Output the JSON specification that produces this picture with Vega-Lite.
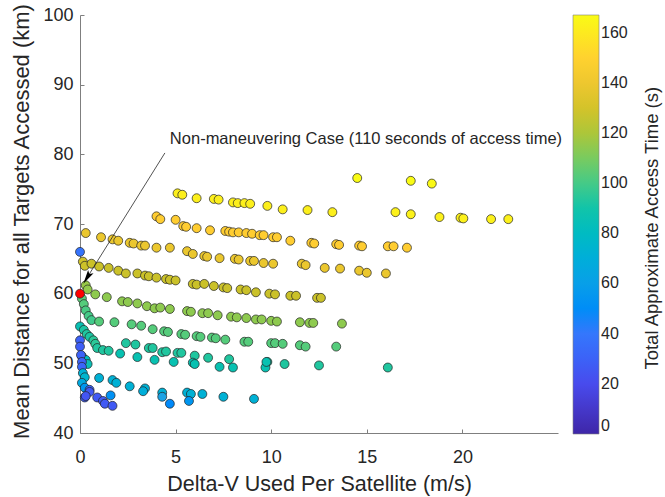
{
  "$schema": "https://vega.github.io/schema/vega-lite/v6.json",
  "width": 478,
  "height": 418,
  "autosize": {"type": "none"},
  "padding": {"left": 80, "top": 15, "right": 107, "bottom": 64},
  "background": "white",
  "config": {
    "font": "Liberation Sans",
    "view": {"stroke": null},
    "axis": {
      "grid": false,
      "labelFlush": false,
      "domainColor": "#7f7f7f",
      "domainWidth": 1,
      "tickColor": "#7f7f7f",
      "tickSize": -4,
      "labelFontSize": 18,
      "labelColor": "#262626",
      "titleFontSize": 21.5,
      "titleFontWeight": "normal",
      "titleColor": "#262626"
    },
    "legend": {
      "padding": 0,
      "offset": 15,
      "gradientLength": 419,
      "gradientThickness": 26,
      "gradientStrokeColor": "#7f7f7f",
      "gradientStrokeWidth": 0.6,
      "labelFontSize": 16,
      "labelColor": "#262626",
      "labelOffset": 14
    }
  },
  "layer": [
    {
      "data": {"values": [
        {"x":14.5,"y":76.6,"t":167},{"x":17.3,"y":76.2,"t":167},{"x":18.4,"y":75.8,"t":166},
        {"x":5.1,"y":74.4,"t":162},{"x":5.35,"y":74.2,"t":162},{"x":6.1,"y":73.7,"t":162},{"x":7.0,"y":73.6,"t":162},{"x":7.25,"y":73.5,"t":162},{"x":8.0,"y":73.1,"t":162},{"x":8.25,"y":73.0,"t":162},{"x":8.6,"y":73.0,"t":162},{"x":8.9,"y":72.9,"t":162},{"x":9.8,"y":72.6,"t":162},{"x":10.6,"y":72.1,"t":162},{"x":11.9,"y":72.0,"t":162},{"x":13.2,"y":71.7,"t":162},{"x":16.5,"y":71.7,"t":163},{"x":17.3,"y":71.4,"t":163},{"x":18.8,"y":71.0,"t":163},{"x":19.9,"y":70.9,"t":163},{"x":20.05,"y":70.8,"t":163},{"x":21.5,"y":70.7,"t":163},{"x":22.4,"y":70.7,"t":163},
        {"x":4.0,"y":71.1,"t":148},{"x":4.2,"y":70.7,"t":148},{"x":5.0,"y":70.6,"t":148},{"x":5.4,"y":69.7,"t":148},{"x":5.55,"y":69.6,"t":148},{"x":6.1,"y":69.4,"t":148},{"x":6.8,"y":69.1,"t":148},{"x":7.6,"y":69.0,"t":148},{"x":7.8,"y":68.9,"t":148},{"x":8.0,"y":68.8,"t":148},{"x":8.3,"y":68.8,"t":148},{"x":8.7,"y":68.7,"t":148},{"x":9.0,"y":68.6,"t":148},{"x":9.4,"y":68.4,"t":148},{"x":9.6,"y":68.4,"t":148},{"x":10.1,"y":68.1,"t":148},{"x":10.3,"y":68.1,"t":148},{"x":11.0,"y":67.6,"t":148},{"x":12.1,"y":67.3,"t":148},{"x":12.25,"y":67.2,"t":148},{"x":13.4,"y":67.1,"t":148},{"x":13.55,"y":67.0,"t":148},{"x":14.6,"y":66.9,"t":148},{"x":14.75,"y":66.8,"t":148},{"x":16.1,"y":66.8,"t":148},{"x":16.4,"y":66.8,"t":148},{"x":17.1,"y":66.6,"t":148},
        {"x":0.3,"y":68.7,"t":139},{"x":1.1,"y":68.1,"t":139},{"x":1.7,"y":67.8,"t":139},{"x":2.0,"y":67.6,"t":139},{"x":2.6,"y":67.3,"t":139},{"x":2.8,"y":67.2,"t":139},{"x":3.2,"y":66.9,"t":139},{"x":3.4,"y":66.9,"t":139},{"x":4.0,"y":66.6,"t":139},{"x":4.7,"y":66.6,"t":139},{"x":5.6,"y":66.1,"t":139},{"x":5.9,"y":65.7,"t":139},{"x":6.5,"y":65.4,"t":139},{"x":6.65,"y":65.3,"t":139},{"x":7.3,"y":65.1,"t":139},{"x":8.1,"y":65.0,"t":139},{"x":8.3,"y":64.9,"t":139},{"x":8.9,"y":64.7,"t":139},{"x":9.1,"y":64.7,"t":139},{"x":9.6,"y":64.4,"t":139},{"x":10.1,"y":64.3,"t":139},{"x":11.6,"y":64.3,"t":139},{"x":11.8,"y":64.1,"t":139},{"x":12.8,"y":63.7,"t":139},{"x":13.6,"y":63.6,"t":139},{"x":14.6,"y":63.3,"t":139},{"x":15.0,"y":63.0,"t":139},{"x":16.0,"y":62.9,"t":139},
        {"x":0.15,"y":64.6,"t":128},{"x":0.25,"y":64.0,"t":127},{"x":0.6,"y":64.3,"t":126},{"x":1.0,"y":63.9,"t":126},{"x":1.5,"y":63.7,"t":126},{"x":2.0,"y":63.3,"t":126},{"x":2.4,"y":62.9,"t":126},{"x":3.0,"y":62.9,"t":126},{"x":3.4,"y":62.6,"t":126},{"x":3.6,"y":62.5,"t":126},{"x":4.0,"y":62.3,"t":126},{"x":4.5,"y":62.1,"t":126},{"x":4.7,"y":62.0,"t":126},{"x":5.0,"y":61.9,"t":126},{"x":5.9,"y":61.4,"t":126},{"x":6.1,"y":61.3,"t":126},{"x":6.5,"y":61.4,"t":126},{"x":7.0,"y":61.1,"t":126},{"x":7.5,"y":60.9,"t":126},{"x":7.7,"y":60.8,"t":126},{"x":8.4,"y":60.6,"t":126},{"x":8.7,"y":60.5,"t":126},{"x":9.2,"y":60.2,"t":126},{"x":9.9,"y":60.0,"t":126},{"x":10.2,"y":59.9,"t":126},{"x":11.0,"y":59.7,"t":126},{"x":11.3,"y":59.7,"t":126},{"x":12.4,"y":59.4,"t":126},{"x":12.6,"y":59.4,"t":126},
        {"x":0.3,"y":61.2,"t":116},{"x":0.4,"y":60.6,"t":115},{"x":0.8,"y":59.9,"t":114},{"x":1.4,"y":59.5,"t":114},{"x":2.2,"y":58.9,"t":114},{"x":2.5,"y":58.8,"t":114},{"x":3.0,"y":58.6,"t":114},{"x":3.5,"y":58.2,"t":114},{"x":3.9,"y":57.9,"t":114},{"x":4.2,"y":58.0,"t":114},{"x":4.7,"y":57.8,"t":114},{"x":5.6,"y":57.5,"t":114},{"x":5.8,"y":57.4,"t":114},{"x":6.4,"y":57.2,"t":114},{"x":6.7,"y":57.2,"t":114},{"x":7.2,"y":56.9,"t":114},{"x":7.9,"y":56.7,"t":114},{"x":8.2,"y":56.6,"t":114},{"x":8.7,"y":56.5,"t":114},{"x":9.2,"y":56.3,"t":114},{"x":9.5,"y":56.3,"t":114},{"x":10.0,"y":56.1,"t":114},{"x":10.3,"y":56.0,"t":114},{"x":11.5,"y":55.9,"t":114},{"x":12.0,"y":55.8,"t":114},{"x":12.2,"y":55.8,"t":114},{"x":13.7,"y":55.7,"t":114},
        {"x":0.1,"y":59.3,"t":104},{"x":0.2,"y":58.5,"t":103},{"x":0.3,"y":57.6,"t":101},{"x":0.45,"y":56.8,"t":100},{"x":0.6,"y":56.2,"t":99},
        {"x":1.0,"y":56.0,"t":103},{"x":1.8,"y":55.9,"t":103},{"x":2.7,"y":55.6,"t":103},{"x":3.2,"y":55.4,"t":103},{"x":3.8,"y":54.9,"t":103},{"x":4.4,"y":54.6,"t":103},{"x":4.6,"y":54.5,"t":103},{"x":5.3,"y":54.2,"t":103},{"x":5.5,"y":54.1,"t":103},{"x":6.1,"y":53.9,"t":103},{"x":6.3,"y":53.8,"t":103},{"x":6.9,"y":53.7,"t":103},{"x":7.1,"y":53.6,"t":103},{"x":7.6,"y":53.4,"t":103},{"x":8.6,"y":53.1,"t":103},{"x":8.8,"y":53.1,"t":103},{"x":10.0,"y":52.9,"t":103},{"x":10.2,"y":52.9,"t":103},{"x":10.6,"y":52.8,"t":103},{"x":11.5,"y":52.6,"t":103},{"x":11.8,"y":52.4,"t":103},{"x":13.4,"y":52.4,"t":103},
        {"x":0.0,"y":55.3,"t":86},{"x":0.2,"y":54.8,"t":92},{"x":0.35,"y":54.2,"t":93},{"x":0.5,"y":53.8,"t":92},{"x":0.7,"y":53.3,"t":95},{"x":0.8,"y":52.8,"t":95},{"x":0.9,"y":52.2,"t":93},{"x":0.1,"y":51.0,"t":85},{"x":0.3,"y":50.5,"t":82},{"x":0.4,"y":49.9,"t":85},
        {"x":1.2,"y":51.9,"t":93},{"x":1.5,"y":51.8,"t":93},{"x":2.4,"y":52.9,"t":93},{"x":2.9,"y":52.7,"t":93},{"x":3.6,"y":52.2,"t":93},{"x":3.8,"y":52.2,"t":93},{"x":4.3,"y":51.6,"t":93},{"x":4.5,"y":51.7,"t":93},{"x":5.1,"y":51.5,"t":93},{"x":5.3,"y":51.5,"t":93},{"x":6.0,"y":51.1,"t":93},{"x":6.7,"y":50.8,"t":93},{"x":7.8,"y":50.6,"t":93},{"x":9.8,"y":50.2,"t":93},{"x":10.7,"y":49.9,"t":93},{"x":12.5,"y":49.7,"t":93},{"x":16.1,"y":49.4,"t":93},
        {"x":2.1,"y":51.4,"t":87},{"x":3.0,"y":50.9,"t":87},{"x":3.9,"y":50.5,"t":87},{"x":4.9,"y":50.2,"t":87},{"x":5.9,"y":50.1,"t":87},{"x":6.0,"y":49.9,"t":87},{"x":7.3,"y":49.5,"t":87},{"x":8.0,"y":49.4,"t":87},{"x":9.7,"y":49.4,"t":87},{"x":9.75,"y":50.2,"t":87},
        {"x":0.0,"y":66.0,"t":38},
        {"x":0.0,"y":53.3,"t":30},{"x":0.0,"y":52.4,"t":28},{"x":0.05,"y":51.2,"t":30},{"x":0.1,"y":50.2,"t":30},{"x":0.1,"y":49.5,"t":32},{"x":0.15,"y":48.6,"t":72},{"x":0.25,"y":48.0,"t":75},{"x":0.1,"y":47.2,"t":66},{"x":0.25,"y":46.5,"t":55},{"x":0.5,"y":46.2,"t":30},{"x":0.25,"y":45.1,"t":28},
        {"x":1.0,"y":47.9,"t":72},{"x":1.7,"y":47.6,"t":72},{"x":1.9,"y":47.2,"t":72},{"x":2.6,"y":46.7,"t":72},{"x":3.4,"y":46.4,"t":72},{"x":3.3,"y":46.0,"t":70},{"x":4.3,"y":45.8,"t":72},{"x":4.3,"y":45.2,"t":62},{"x":5.6,"y":45.8,"t":72},{"x":5.8,"y":45.6,"t":72},{"x":6.4,"y":45.6,"t":72},{"x":7.5,"y":45.2,"t":72},{"x":9.1,"y":44.9,"t":72},
        {"x":1.6,"y":45.4,"t":52},{"x":4.7,"y":44.2,"t":48},{"x":5.7,"y":44.6,"t":55},
        {"x":0.5,"y":45.9,"t":26},{"x":0.3,"y":45.3,"t":24},{"x":0.9,"y":45.1,"t":26},{"x":1.2,"y":44.6,"t":26},{"x":1.3,"y":44.2,"t":26},{"x":1.7,"y":43.9,"t":26}
      ]},
      "mark": {"type": "circle", "size": 80, "opacity": 1, "stroke": "#222222", "strokeWidth": 0.7},
      "encoding": {
        "x": {"field": "x", "type": "quantitative", "scale": {"domain": [0, 25], "nice": false},
              "axis": {"values": [0, 5, 10, 15, 20], "labelPadding": 19, "title": "Delta-V Used Per Satellite (m/s)", "titleY": 57, "titleBaseline": "alphabetic"}},
        "y": {"field": "y", "type": "quantitative", "scale": {"domain": [40, 100], "nice": false},
              "axis": {"values": [40, 50, 60, 70, 80, 90, 100], "labelPadding": 11, "title": "Mean Distance for all Targets Accessed (km)", "titleFontSize": 22, "titleX": -52, "titleY": 206, "titleBaseline": "alphabetic"}},
        "color": {"field": "t", "type": "quantitative",
                  "scale": {"domain": [0, 20.875, 41.75, 62.625, 83.5, 104.375, 125.25, 146.125, 167],
                            "range": ["#3e26a8", "#484df0", "#347afd", "#21a3e3", "#12beb9", "#5ccc76", "#c8c129", "#fec934", "#f9fb15"]},
                  "legend": {"title": null, "values": [0, 20, 40, 60, 80, 100, 120, 140, 160], "direction": "vertical"}}
      }
    },
    {
      "data": {"values": [{"x": 0, "y": 60.0}]},
      "mark": {"type": "circle", "size": 80, "opacity": 1, "fill": "#ff0000", "stroke": "#222222", "strokeWidth": 0.7},
      "encoding": {"x": {"field": "x", "type": "quantitative"}, "y": {"field": "y", "type": "quantitative"}}
    },
    {
      "data": {"values": [{"x": 4.44, "y": 80.2, "x2": 0.37, "y2": 62.3}]},
      "mark": {"type": "rule", "color": "#262626", "strokeWidth": 0.8},
      "encoding": {"x": {"field": "x", "type": "quantitative"}, "y": {"field": "y", "type": "quantitative"}, "x2": {"field": "x2"}, "y2": {"field": "y2"}}
    },
    {
      "data": {"values": [{"x": 0.37, "y": 62.3}]},
      "mark": {"type": "point", "shape": "M0,-1L0.45,1L0,0.6L-0.45,1Z", "size": 200, "angle": 212, "filled": true, "color": "#000000", "opacity": 1},
      "encoding": {"x": {"field": "x", "type": "quantitative"}, "y": {"field": "y", "type": "quantitative"}}
    },
    {
      "data": {"values": [{"x": 4.7, "y": 81.5, "label": "Non-maneuvering Case (110 seconds of access time)"}]},
      "mark": {"type": "text", "align": "left", "baseline": "alphabetic", "fontSize": 16.5, "color": "#262626"},
      "encoding": {"x": {"field": "x", "type": "quantitative"}, "y": {"field": "y", "type": "quantitative"}, "text": {"field": "label"}}
    },
    {
      "data": {"values": [{"x": 30.25, "y": 69.4, "label": "Total Approximate Access Time (s)"}]},
      "mark": {"type": "text", "align": "center", "baseline": "alphabetic", "angle": 270, "fontSize": 18.5, "color": "#262626", "clip": false},
      "encoding": {"x": {"field": "x", "type": "quantitative"}, "y": {"field": "y", "type": "quantitative"}, "text": {"field": "label"}}
    }
  ]
}
